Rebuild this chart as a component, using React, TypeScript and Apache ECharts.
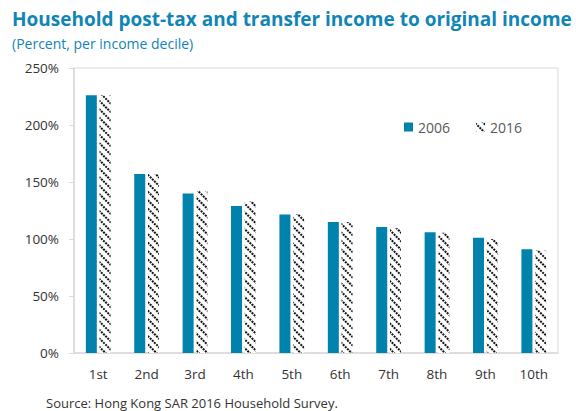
import React, { useEffect, useRef } from "react";
import * as echarts from "echarts";

const categories = ["1st", "2nd", "3rd", "4th", "5th", "6th", "7th", "8th", "9th", "10th"];
const values2006 = [226, 157, 140, 129, 121.5, 115, 110.5, 106, 101, 91];
const values2016 = [226, 157, 142, 133, 122, 115, 109.5, 105.5, 100, 90];
const yTicks = [0, 50, 100, 150, 200, 250];

const FONT = "'Open Sans', 'Noto Sans', sans-serif";

export default function App() {
  const ref = useRef<HTMLDivElement>(null);
  useEffect(() => {
    document.body.style.margin = "0";
    if (!ref.current) return;
    const chart = echarts.init(ref.current, null, { renderer: "svg" });
    chart.setOption({
      animation: false,
      backgroundColor: "#ffffff",
      textStyle: { fontFamily: FONT },
      title: [
        {
          text: "Household post-tax and transfer income to original income",
          left: 12,
          top: 9,
          padding: 0,
          textStyle: { color: "#1085b6", fontSize: 19, fontWeight: "bold", fontFamily: FONT },
        },
        {
          text: "(Percent, per income decile)",
          left: 12,
          top: 36,
          padding: 0,
          textStyle: { color: "#1085b6", fontSize: 14, fontWeight: "normal", fontFamily: FONT },
        },
        {
          text: "Source: Hong Kong SAR 2016 Household Survey.",
          left: 46,
          top: 395,
          padding: 0,
          textStyle: { color: "#333333", fontSize: 13, lineHeight: 15, fontWeight: "normal", fontFamily: FONT },
        },
      ],
      legend: {
        left: 399,
        top: 115,
        icon: "rect",
        itemWidth: 9,
        itemHeight: 9,
        itemGap: 26,
        textStyle: { color: "#595959", fontSize: 14, fontFamily: FONT },
        data: ["2006", "2016"],
      },
      grid: {
        left: 74,
        right: 18,
        top: 68,
        bottom: 58,
        show: true,
        borderColor: "#d9d9d9",
        borderWidth: 1,
        containLabel: false,
      },
      xAxis: {
        type: "category",
        data: categories,
        axisLine: { show: true, lineStyle: { color: "#d9d9d9", width: 1.5 } },
        axisTick: { show: false },
        axisLabel: { color: "#333333", fontSize: 13.5, margin: 14, fontFamily: FONT },
      },
      yAxis: {
        type: "value",
        min: yTicks[0],
        max: yTicks[yTicks.length - 1],
        interval: 50,
        axisLine: { show: true, lineStyle: { color: "#d9d9d9", width: 1.5 } },
        axisTick: { show: true, length: 5, lineStyle: { color: "#d9d9d9" } },
        splitLine: { show: false },
        axisLabel: { color: "#333333", fontSize: 13.5, margin: 15, formatter: "{value}%", fontFamily: FONT },
      },
      series: [
        {
          name: "2006",
          type: "bar",
          data: values2006,
          barWidth: 11,
          barGap: "25%",
          itemStyle: { color: "#0082ad" },
        },
        {
          name: "2016",
          type: "bar",
          data: values2016,
          barWidth: 11,
          itemStyle: {
            color: "#ffffff",
            decal: {
              symbol: "rect",
              symbolSize: 1,
              color: "#111111",
              backgroundColor: "#ffffff",
              dashArrayX: [2, 1],
              dashArrayY: [1.5, 3.5],
              rotation: Math.PI / 4,
            },
          },
        },
      ],
    });
    return () => chart.dispose();
  }, []);
  return <div ref={ref} style={{ width: 576, height: 411 }} />;
}
